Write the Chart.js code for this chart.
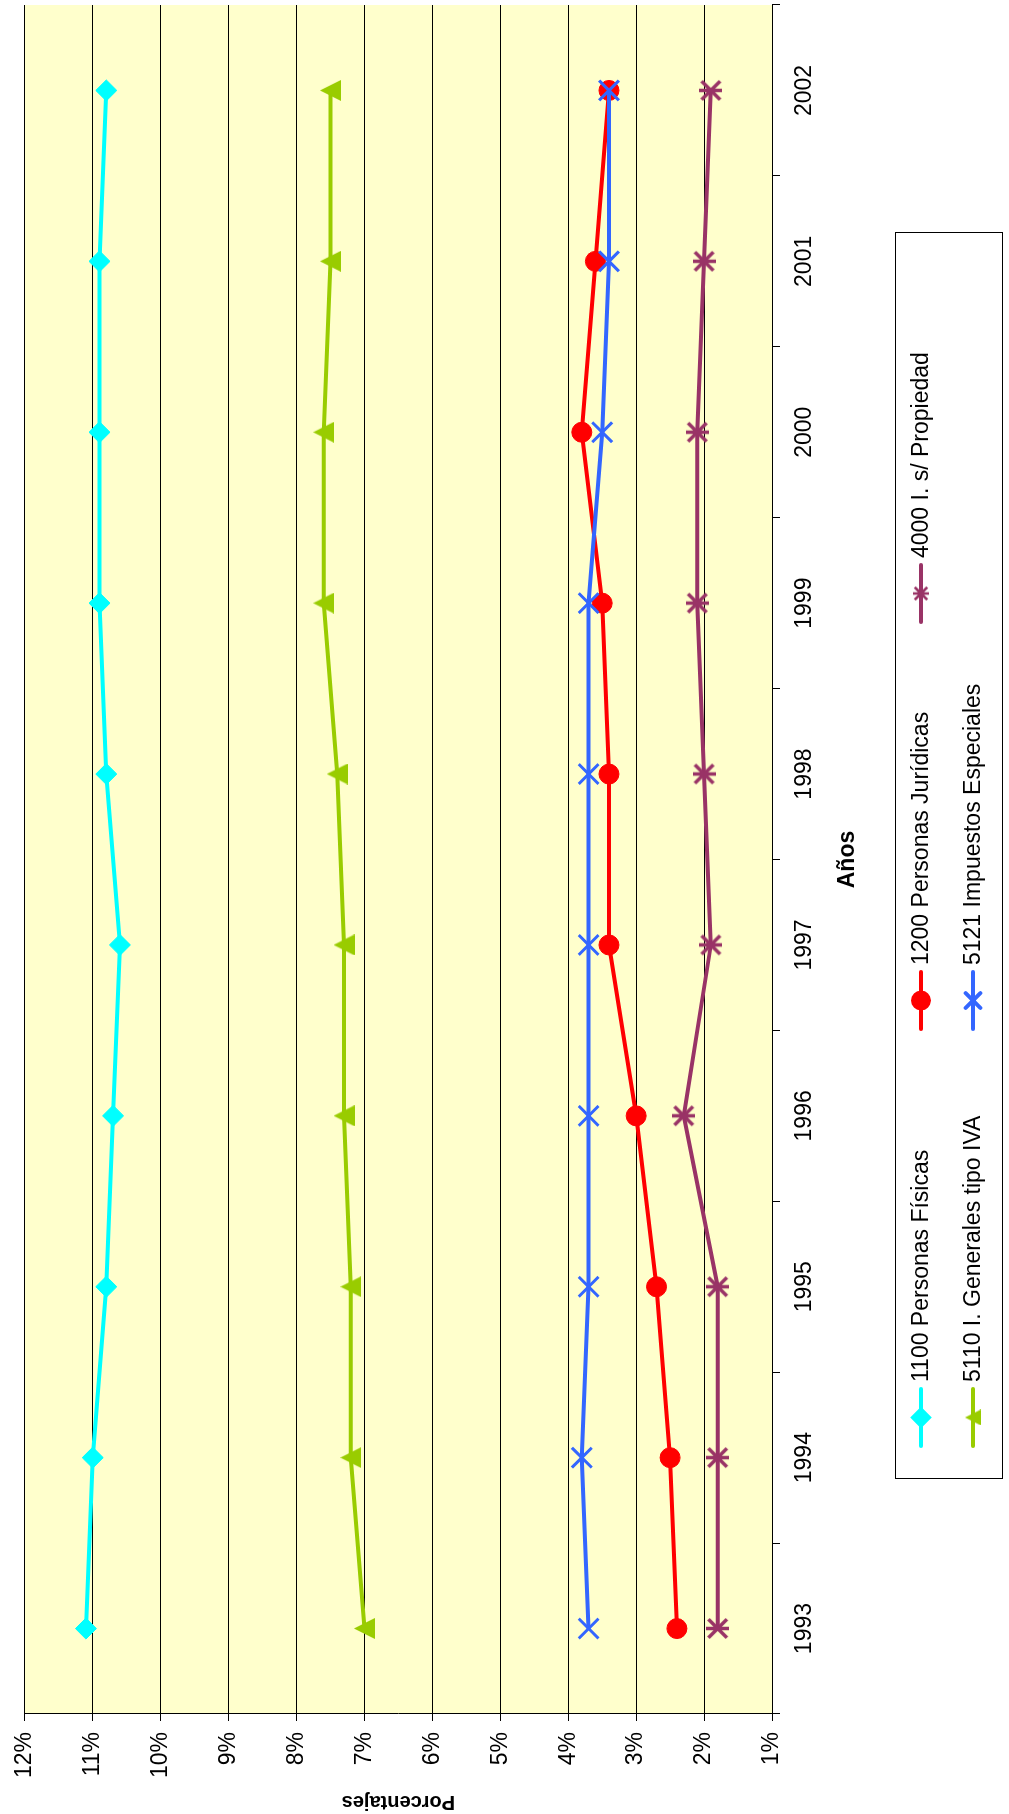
<!DOCTYPE html>
<html lang="es">
<head>
<meta charset="utf-8">
<title>Porcentajes por año</title>
<script src="https://cdn.jsdelivr.net/npm/chart.js@4.4.1/dist/chart.umd.min.js"></script>
<style>
  html, body { margin: 0; padding: 0; background: #ffffff; overflow: hidden; }
  /* the chart is laid out landscape and turned a quarter turn to fit the portrait page */
  #frame {
    position: absolute; left: 0; top: 0;
    width: 1814px; height: 1009px;
    transform-origin: 0 0;
    transform: translateY(1814px) rotate(-90deg);
  }
  canvas { display: block; }
</style>
</head>
<body>
<div id="frame"><canvas id="chart" width="1814" height="1009"></canvas></div>
<script>
// ---- data ----
const years = ['1993', '1994', '1995', '1996', '1997', '1998', '1999', '2000', '2001', '2002'];
const personasFisicas   = [11.1, 11.0, 10.8, 10.7, 10.6, 10.8, 10.9, 10.9, 10.9, 10.8];
const personasJuridicas = [2.4, 2.5, 2.7, 3.0, 3.4, 3.4, 3.5, 3.8, 3.6, 3.4];
const impPropiedad      = [1.8, 1.8, 1.8, 2.3, 1.9, 2.0, 2.1, 2.1, 2.0, 1.9];
const impGeneralesIVA   = [7.0, 7.2, 7.2, 7.3, 7.3, 7.4, 7.6, 7.6, 7.5, 7.5];
const impEspeciales     = [3.7, 3.8, 3.7, 3.7, 3.7, 3.7, 3.7, 3.5, 3.4, 3.4];
const seriesNames = [
  '1100 Personas Físicas',
  '1200 Personas Jurídicas',
  '4000 I. s/ Propiedad',
  '5110 I. Generales tipo IVA',
  '5121 Impuestos Especiales'
];
const axisMin = 1, axisMax = 12;
const xTitle = 'Años';
const yTitle = 'Porcentajes';

const FONT = '"Liberation Sans", Arial, Helvetica, sans-serif';
Chart.defaults.font.family = FONT;
Chart.defaults.color = '#000000';

// ---- marker images ----
function triangleMarker(size, color) {
  const c = document.createElement('canvas');
  c.width = c.height = size;
  const g = c.getContext('2d');
  g.fillStyle = color;
  g.beginPath();
  g.moveTo(size / 2, 0);
  g.lineTo(size, size);
  g.lineTo(0, size);
  g.closePath();
  g.fill();
  return c;
}
function asteriskMarker(size, color, lw) {
  const c = document.createElement('canvas');
  c.width = c.height = size;
  const g = c.getContext('2d');
  g.strokeStyle = color;
  g.lineWidth = lw;
  const m = lw / 2 + 0.5, s = size - m, h = size / 2;
  g.beginPath();
  g.moveTo(m, m); g.lineTo(s, s);
  g.moveTo(s, m); g.lineTo(m, s);
  g.moveTo(h, 0); g.lineTo(h, size);
  g.stroke();
  return c;
}

const COLORS = ['#00FFFF', '#FF0000', '#993366', '#99CC00', '#3366FF'];

const markers = [
  { pointStyle: 'rectRot', radius: 10.5 },
  { pointStyle: 'circle', radius: 10 },
  { pointStyle: asteriskMarker(23, COLORS[2], 3.5), radius: 11 },
  { pointStyle: triangleMarker(21, COLORS[3]), radius: 10 },
  { pointStyle: 'crossRot', radius: 14, borderWidth: 3 }
];
const legendMarkers = [
  { pointStyle: 'rectRot', radius: 8 },
  { pointStyle: 'circle', radius: 8 },
  { pointStyle: asteriskMarker(16, COLORS[2], 2.5), radius: 8 },
  { pointStyle: triangleMarker(16, COLORS[3]), radius: 7 },
  { pointStyle: 'crossRot', radius: 10.5, borderWidth: 2.5 }
];

const seriesValues = [personasFisicas, personasJuridicas, impPropiedad, impGeneralesIVA, impEspeciales];
// later series are painted over earlier ones
const drawOrder = [4, 3, 2, 1, 0];

const datasets = seriesValues.map((vals, i) => ({
  label: seriesNames[i],
  data: vals,
  borderColor: COLORS[i],
  backgroundColor: COLORS[i],
  borderWidth: 4,
  tension: 0,
  fill: false,
  pointStyle: markers[i].pointStyle,
  pointRadius: markers[i].radius,
  pointHoverRadius: markers[i].radius,
  pointBorderColor: COLORS[i],
  pointBackgroundColor: COLORS[i],
  pointBorderWidth: markers[i].borderWidth || 1,
  order: drawOrder[i]
}));

// ---- plugins ----
const plotBackground = {
  id: 'plotBackground',
  beforeDraw(chart) {
    const { ctx, chartArea: a } = chart;
    ctx.save();
    ctx.fillStyle = '#FFFFCC';
    ctx.fillRect(a.left, a.top, a.right - a.left, a.bottom - a.top);
    ctx.restore();
  }
};

// boxed legend: three columns, two rows
const boxedLegend = {
  id: 'boxedLegend',
  afterDraw(chart) {
    const { ctx } = chart;
    const box = { x: 335, y: 895, w: 1246, h: 107 };
    const rowY = [921, 973];
    const colX = [368, 785, 1192];
    const sample = 57;
    const slots = [[0, 0], [1, 0], [2, 0], [0, 1], [1, 1]];
    ctx.save();
    ctx.fillStyle = '#FFFFFF';
    ctx.fillRect(box.x, box.y, box.w, box.h);
    ctx.strokeStyle = '#000000';
    ctx.lineWidth = 1;
    ctx.strokeRect(box.x + 0.5, box.y + 0.5, box.w, box.h);
    ctx.font = '23px ' + FONT;
    ctx.textBaseline = 'middle';
    ctx.textAlign = 'left';
    slots.forEach(([c, r], i) => {
      const x0 = colX[c], y = rowY[r];
      ctx.strokeStyle = COLORS[i];
      ctx.lineWidth = 4;
      ctx.lineCap = 'round';
      ctx.beginPath();
      ctx.moveTo(x0, y);
      ctx.lineTo(x0 + sample, y);
      ctx.stroke();
      ctx.fillStyle = COLORS[i];
      Chart.helpers.drawPoint(ctx, {
        pointStyle: legendMarkers[i].pointStyle,
        radius: legendMarkers[i].radius,
        rotation: 0,
        borderWidth: legendMarkers[i].borderWidth || 1
      }, x0 + sample / 2, y);
      ctx.fillStyle = '#000000';
      ctx.fillText(seriesNames[i], x0 + sample + 7, y + 1);
    });
    ctx.restore();
  }
};

new Chart(document.getElementById('chart'), {
  type: 'line',
  data: { labels: years, datasets },
  options: {
    responsive: false,
    animation: false,
    devicePixelRatio: 1,
    events: [],
    layout: { autoPadding: false, padding: { top: 22, right: 5, left: 0, bottom: 147 } },
    plugins: { legend: { display: false }, tooltip: { enabled: false } },
    scales: {
      x: {
        type: 'category',
        offset: true,
        grid: { offset: true, drawOnChartArea: false, drawTicks: true, tickLength: 8, color: '#000000', lineWidth: 1 },
        border: { display: true, color: '#000000', width: 1 },
        ticks: { font: { size: 23 }, color: '#000000', padding: 11, maxRotation: 0, autoSkip: false },
        title: { display: true, text: xTitle, color: '#000000', font: { size: 23, weight: 'bold' }, padding: { top: 0, bottom: 1 } },
        afterFit(scale) { scale.height = 90; }
      },
      y: {
        min: axisMin,
        max: axisMax,
        ticks: { stepSize: 1, font: { size: 23 }, color: '#000000', padding: 11, callback: v => v + '%' },
        grid: { color: '#000000', lineWidth: 1, tickLength: 7 },
        border: { display: true, color: '#000000', width: 1 },
        title: { display: true, text: yTitle, color: '#000000', font: { size: 20, weight: 'bold' }, padding: { top: 0, bottom: 0 } },
        afterFit(scale) { scale.width = 100; }
      }
    }
  },
  plugins: [plotBackground, boxedLegend]
});
</script>
</body>
</html>
